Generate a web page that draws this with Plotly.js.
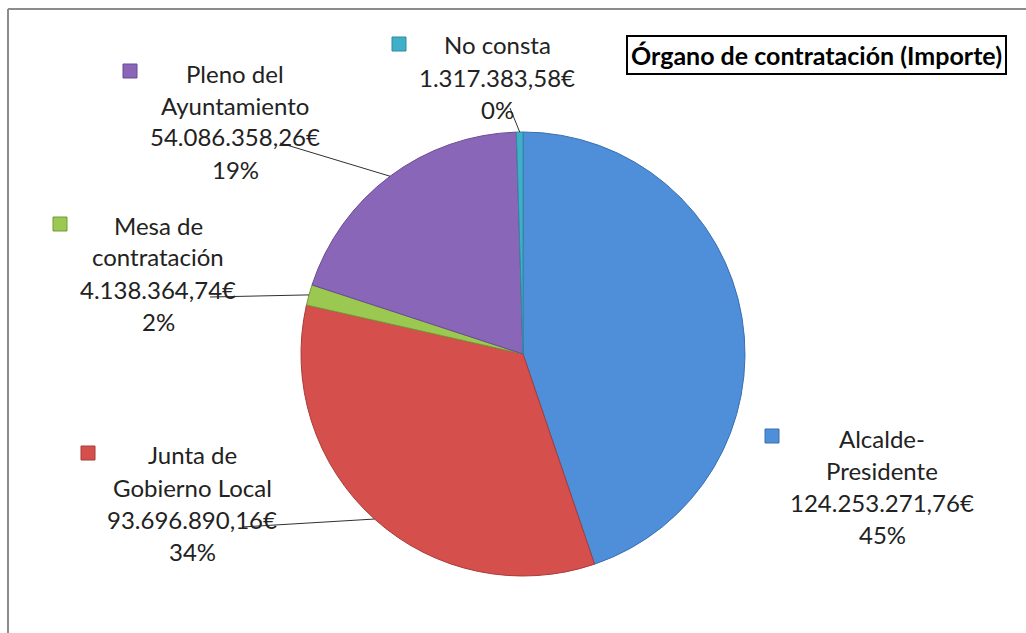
<!DOCTYPE html>
<html>
<head>
<meta charset="utf-8">
<script src="https://cdn.plot.ly/plotly-3.0.1.min.js"></script>
<style>html,body{margin:0;padding:0;background:#fff;}#chart{width:1026px;height:633px;}</style>
</head>
<body>
<div id="chart"></div>
<script>
// ---- data ----
var categories = ["Alcalde-Presidente", "Junta de Gobierno Local", "Mesa de contratación", "Pleno del Ayuntamiento", "No consta"];
var labelLines = [["Alcalde-", "Presidente"], ["Junta de", "Gobierno Local"], ["Mesa de", "contratación"], ["Pleno del", "Ayuntamiento"], ["No consta"]];
var amounts = [124253271.76, 93696890.16, 4138364.74, 54086358.26, 1317383.58];
var amountLabels = ["124.253.271,76€", "93.696.890,16€", "4.138.364,74€", "54.086.358,26€", "1.317.383,58€"];
var percentLabels = ["45%", "34%", "2%", "19%", "0%"];
var colors = ["#4f8ed8", "#d5504c", "#9bc850", "#8a66b8", "#40afc8"];
var lineColors = ["#3a6fb0", "#a83b38", "#76993a", "#6a4b93", "#2f8aa0"];
var chartTitle = "Órgano de contratación (Importe)";

// ---- layout helpers (pixel positions of label blocks) ----
var W = 1026, H = 633;
var cx = 523, cy = 354, R = 222;
var labelCenters = [[882, 438], [192, 455], [158, 225], [235, 73], [497, 45]];
var keyPos = [[772, 436], [88, 453], [60, 224], [130, 71], [399, 44]];
var leaderStart = [null, [242, 527], [210, 297], [280, 143], [510, 108]];
var lineGap = 32;

function px(x) { return x / W; }
function py(y) { return 1 - y / H; }

var total = amounts.reduce(function (a, b) { return a + b; }, 0);

var annotations = [];
var shapes = [];

// frame
shapes.push({type: "line", xref: "paper", yref: "paper", x0: px(8), y0: py(9), x1: 1, y1: py(9), line: {color: "#8c8c8c", width: 2}});
shapes.push({type: "line", xref: "paper", yref: "paper", x0: px(8), y0: py(9), x1: px(8), y1: 0, line: {color: "#8c8c8c", width: 2}});

var cum = 0;
for (var i = 0; i < categories.length; i++) {
  var lines = labelLines[i].concat([amountLabels[i], percentLabels[i]]);
  for (var j = 0; j < lines.length; j++) {
    annotations.push({
      xref: "paper", yref: "paper",
      x: px(labelCenters[i][0]), y: py(labelCenters[i][1] + j * lineGap),
      xanchor: "center", yanchor: "middle",
      text: lines[j], showarrow: false,
      font: {family: "Lato, 'Noto Sans', sans-serif", size: 24, color: "#222"}
    });
  }
  // legend key square
  var k = keyPos[i], s = 7;
  shapes.push({type: "rect", xref: "paper", yref: "paper",
    x0: px(k[0] - s), x1: px(k[0] + s), y0: py(k[1] + s), y1: py(k[1] - s),
    fillcolor: colors[i], line: {color: lineColors[i], width: 1}});
  // leader line to slice mid-angle
  var frac = amounts[i] / total;
  var mid = (cum + frac / 2) * 2 * Math.PI;
  cum += frac;
  if (leaderStart[i]) {
    var ex = cx + R * Math.sin(mid), ey = cy - R * Math.cos(mid);
    shapes.push({type: "line", xref: "paper", yref: "paper",
      x0: px(leaderStart[i][0]), y0: py(leaderStart[i][1]), x1: px(ex), y1: py(ey),
      line: {color: "#303030", width: 1}});
  }
}

// title box
annotations.push({
  xref: "paper", yref: "paper", x: px(816), y: py(55), xanchor: "center", yanchor: "middle",
  text: "<b>" + chartTitle + "</b>", showarrow: false,
  font: {family: "Lato, 'Noto Sans', sans-serif", size: 25, color: "#000"},
  bordercolor: "#000", borderwidth: 2, borderpad: 3, bgcolor: "#fff"
});

var trace = {
  type: "pie",
  labels: categories,
  values: amounts,
  sort: false,
  direction: "clockwise",
  rotation: 0,
  textinfo: "none",
  hoverinfo: "label+value+percent",
  marker: {colors: colors, line: {color: lineColors, width: 1}},
  domain: {x: [px(cx - R), px(cx + R)], y: [py(cy + R), py(cy - R)]},
  showlegend: false
};

var layout = {
  width: W, height: H,
  margin: {l: 0, r: 0, t: 0, b: 0},
  paper_bgcolor: "#fff",
  showlegend: false,
  annotations: annotations,
  shapes: shapes
};

Plotly.newPlot("chart", [trace], layout, {displayModeBar: false, staticPlot: true});
</script>
</body>
</html>
